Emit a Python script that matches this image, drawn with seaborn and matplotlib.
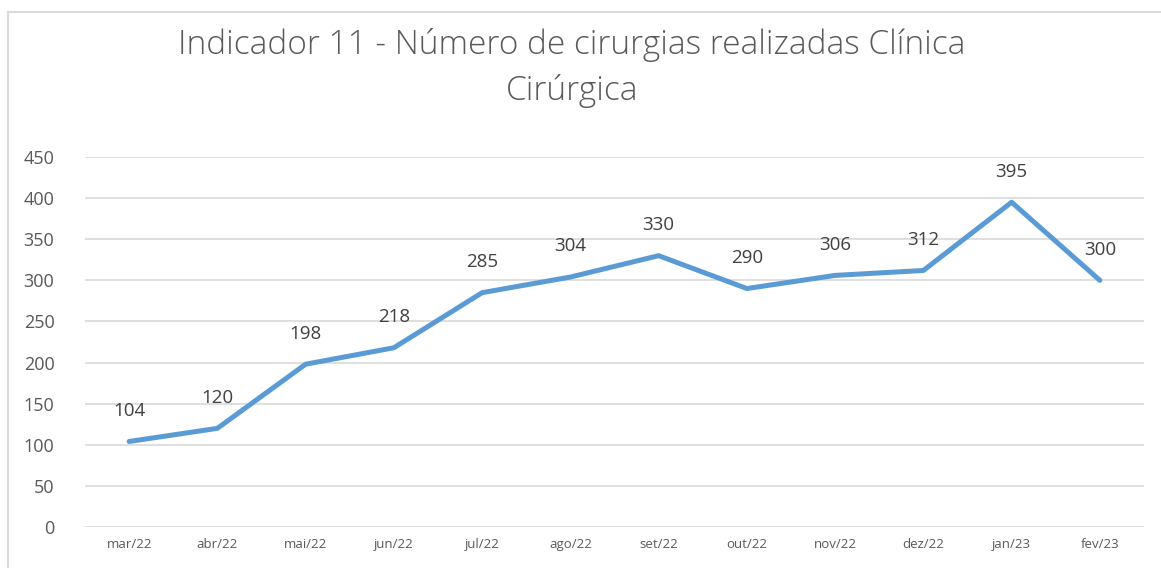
import pandas as pd
import matplotlib.pyplot as plt
import seaborn as sns
from matplotlib.patches import Rectangle

# dados
meses = ['mar/22', 'abr/22', 'mai/22', 'jun/22', 'jul/22', 'ago/22',
         'set/22', 'out/22', 'nov/22', 'dez/22', 'jan/23', 'fev/23']
cirurgias = [104, 120, 198, 218, 285, 304, 330, 290, 306, 312, 395, 300]
yticks = [0, 50, 100, 150, 200, 250, 300, 350, 400, 450]

df = pd.DataFrame({'mes': meses, 'cirurgias': cirurgias})
df['pos'] = range(len(df))

sns.set_style('white')
plt.rcParams['font.family'] = ['Open Sans', 'DejaVu Sans']
cinza = '#595959'

fig = plt.figure(figsize=(11.61, 5.68), dpi=100)
ax = fig.add_axes([85/1161, 1 - 527/568, (1144 - 85)/1161, (527 - 157)/568])

# borda do grafico
fig.patches.append(Rectangle((8/1161, -0.05), 1.1, 1 - 12/568 + 0.05,
                             transform=fig.transFigure, fill=False,
                             edgecolor='#d9d9d9', linewidth=1.5))

sns.lineplot(data=df, x='pos', y='cirurgias', color='#5B9BD5', linewidth=3.6, ax=ax)

for i, v in enumerate(cirurgias):
    ax.annotate(str(v), (i, v), xytext=(0, 22), textcoords='offset points',
                ha='center', va='center', fontsize=13.5, color='#404040')

ax.set_xlim(-0.5, len(meses) - 0.5)
ax.set_ylim(0, 450)
ax.set_yticks(yticks)
ax.set_yticklabels([str(t) for t in yticks], fontsize=13, color=cinza)
ax.set_xticks(range(len(meses)))
ax.set_xticklabels(meses, fontsize=9.5, color=cinza)
ax.tick_params(axis='both', length=0)
ax.tick_params(axis='y', pad=22)
ax.tick_params(axis='x', pad=8)
ax.grid(axis='y', color='#d9d9d9', linewidth=1.2)
ax.set_axisbelow(True)
for s in ax.spines.values():
    s.set_visible(False)
ax.set_xlabel('')
ax.set_ylabel('')

fig.text(572/1161, 1 - 68/568,
         'Indicador 11 - Número de cirurgias realizadas Clínica\nCirúrgica',
         ha='center', va='center', fontsize=24, color=cinza, linespacing=1.45,
         fontweight='light')

fig.savefig('out.png', dpi=100)
